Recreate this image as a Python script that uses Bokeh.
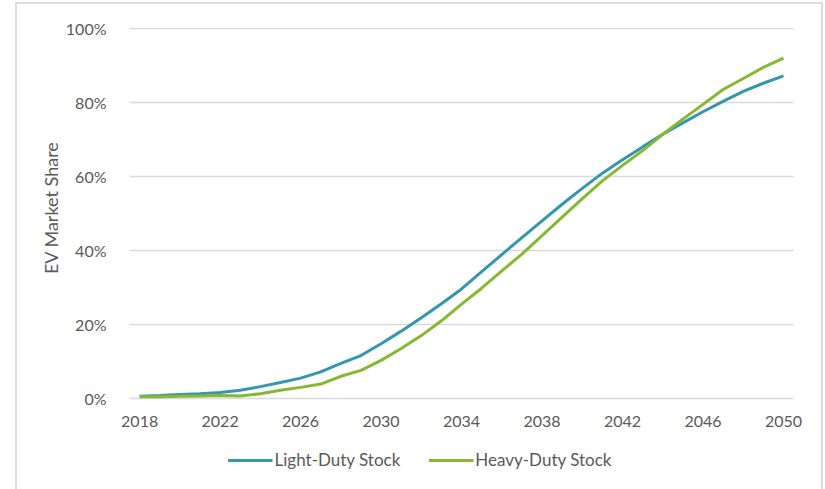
from bokeh.plotting import figure
from bokeh.models import (Range1d, FixedTicker, PrintfTickFormatter, Legend,
                          LegendItem, LinearAxis)
from bokeh.embed import file_html
from bokeh.resources import INLINE

# EV share of the vehicle stock, in percent, by year
years = list(range(2018, 2051))
light_duty = [0.6, 0.8, 1.1, 1.3, 1.6, 2.2, 3.2, 4.3, 5.5, 7.2, 9.5, 11.6, 14.8,
              18.2, 21.8, 25.6, 29.6, 34.3, 38.9, 43.5, 48.0, 52.5, 56.8, 60.9,
              64.5, 68.0, 71.4, 74.5, 77.5, 80.3, 83.0, 85.2, 87.2]
heavy_duty = [0.5, 0.5, 0.6, 0.7, 0.8, 0.7, 1.3, 2.2, 3.0, 3.9, 6.0, 7.6, 10.3,
              13.5, 17.0, 21.0, 25.5, 29.8, 34.5, 39.0, 44.0, 49.0, 54.0, 58.8,
              63.0, 67.0, 71.4, 75.5, 79.5, 83.5, 86.5, 89.5, 92.0]
x_ticks = list(range(2018, 2051, 4))
y_ticks = [0, 20, 40, 60, 80, 100]

FONT = "Lato"
TEXT = "#595959"
GRID = "#d9d9d9"
EDGE = "#dcdcdc"
BLUE = "#3497ae"
GREEN = "#86b834"

# Category-style band: each year owns one unit, half a unit on either side.
x_lo, x_hi = years[0] - 0.5, years[-1] + 0.5
# a little extra room left/right so the end year labels are not clipped
x_start, x_end = x_lo - 0.7, x_hi + 1.29

# The plot area runs down to the bottom edge so the legend can sit under the
# year axis, which is pinned at 0 %.
p = figure(width=825, height=489, output_backend="svg", toolbar_location=None,
           x_range=Range1d(x_start, x_end), y_range=Range1d(-24.6, 100.27),
           x_axis_location=None,
           min_border_left=115, min_border_right=6, min_border_top=27,
           min_border_bottom=0)
p.outline_line_color = None
p.background_fill_color = "white"
p.border_fill_color = None
# thin frame around the whole chart area, painted behind the canvas
p.styles = {
    "background-color": "white",
    "background-image": ", ".join([f"linear-gradient({EDGE}, {EDGE})"] * 3),
    "background-size": "2px 487px, 808px 2px, 2px 487px",
    "background-position": "15px 2px, 15px 2px, 821px 2px",
    "background-repeat": "no-repeat",
}

# horizontal gridlines limited to the year band
p.segment(x0=[x_lo] * len(y_ticks), y0=y_ticks, x1=[x_hi] * len(y_ticks),
          y1=y_ticks, line_color=GRID, line_width=1.5)

r1 = p.line(years, light_duty, line_color=BLUE, line_width=3)
r2 = p.line(years, heavy_duty, line_color=GREEN, line_width=3)
# transparent spacer entry: pushes the centred legend to the left
r_pad = p.line(years[:2], light_duty[:2], line_alpha=0)

# Year axis at the 0 % line, labels hanging below it
xaxis = LinearAxis(ticker=FixedTicker(ticks=x_ticks), fixed_location=0,
                   bounds=(x_lo, x_hi), major_label_standoff=-35)
p.add_layout(xaxis, "above")

p.yaxis.ticker = FixedTicker(ticks=y_ticks)
p.yaxis.formatter = PrintfTickFormatter(format="%d%%")
for ax in (xaxis, p.yaxis[0]):
    ax.major_tick_line_color = None
    ax.minor_tick_line_color = None
    ax.major_label_text_font = FONT
    ax.major_label_text_font_size = "16px"
    ax.major_label_text_color = TEXT
    ax.axis_line_color = None
p.yaxis.major_label_standoff = 3
# leading no-break spaces lift the title to the middle of the 0-100 % span
p.yaxis.axis_label = "\u00a0" * 22 + "EV Market Share"
p.yaxis.axis_label_text_font = FONT
p.yaxis.axis_label_text_font_size = "18px"
p.yaxis.axis_label_text_font_style = "normal"
p.yaxis.axis_label_text_color = TEXT
p.yaxis.axis_label_standoff = 1

p.xgrid.grid_line_color = None
p.ygrid.grid_line_color = None

legend = Legend(items=[LegendItem(label="Light-Duty Stock", renderers=[r1]),
                       LegendItem(label="Heavy-Duty Stock", renderers=[r2]),
                       LegendItem(label="", renderers=[r_pad])],
                orientation="horizontal", location="bottom",
                label_text_font=FONT, label_text_font_size="17px",
                label_text_color=TEXT, glyph_width=45, glyph_height=18,
                label_standoff=2, spacing=28, padding=4, margin=19,
                border_line_color=None, background_fill_alpha=0)
p.add_layout(legend, "center")

open("out.html", "w").write(file_html(p, INLINE))
